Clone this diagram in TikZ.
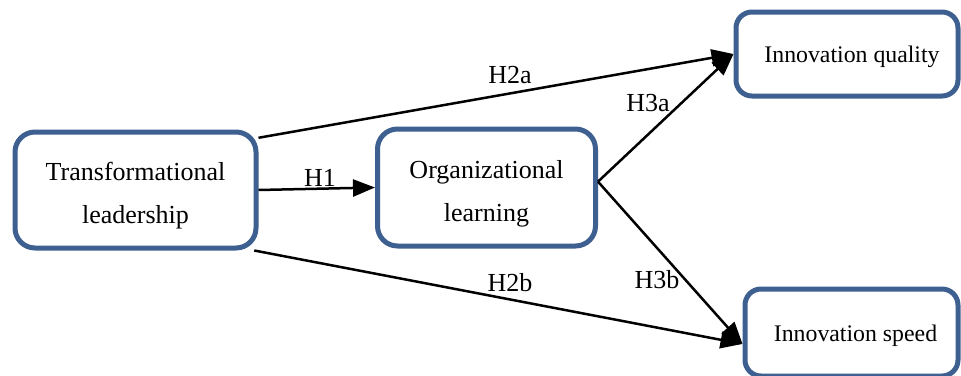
\documentclass[tikz,border=0pt]{standalone}
\usepackage{fontspec}
\setmainfont{Liberation Serif}
\usetikzlibrary{arrows.meta}
\definecolor{boxblue}{RGB}{62,96,145}
\begin{document}
\begin{tikzpicture}[x=1pt,y=-1pt,
  box/.style={draw=boxblue, line width=5pt, fill=white, rounded corners=20pt, inner sep=0pt},
  bigtxt/.style={font=\fontsize{26}{43}\selectfont, align=center, inner sep=0pt},
  smalltxt/.style={font=\fontsize{23.8}{30}\selectfont, inner sep=0pt},
  conn/.style={line width=2.5pt, -{Triangle[length=22pt,width=17pt]}},
  lbl/.style={font=\fontsize{26}{30}\selectfont, inner sep=0pt}]
\useasboundingbox (0,0) rectangle (961,375);
\node[box,minimum width=241pt,minimum height=116pt] (TL) at (135.5,190) {};
\node[box,minimum width=218pt,minimum height=117pt] (OL) at (486.5,187.5) {};
\node[box,minimum width=222pt,minimum height=84pt,rounded corners=16pt] (IQ) at (847,54) {};
\node[box,minimum width=213pt,minimum height=87pt,rounded corners=16pt] (IS) at (851.5,332.5) {};
\node[bigtxt] (TLt) at ([yshift=-6pt]TL.center) {Transformational\\leadership};
\node[bigtxt] (OLt) at ([yshift=-6pt]OL.center) {Organizational\\learning};
\node[smalltxt] (IQt) at ([xshift=5pt,yshift=-3pt]IQ.center) {Innovation quality};
\node[smalltxt] (ISt) at ([xshift=4pt,yshift=-3pt]IS.center) {Innovation speed};
\draw[conn] (TL.23) -- (IQ.west);
\draw[conn] (TL.east) -- (OL.west);
\draw[conn] (TL.-27) -- (IS.186);
\draw[conn] (OL.3) -- (IQ.west);
\draw[conn] (OL.3) -- (IS.186);
\node[lbl] (l2a) at (510,75) {H2a};
\node[lbl] (l1) at (320,178) {H1};
\node[lbl] (l3a) at (648,103) {H3a};
\node[lbl] (l2b) at (510,283) {H2b};
\node[lbl] (l3b) at (657,280) {H3b};
\end{tikzpicture}
\end{document}
